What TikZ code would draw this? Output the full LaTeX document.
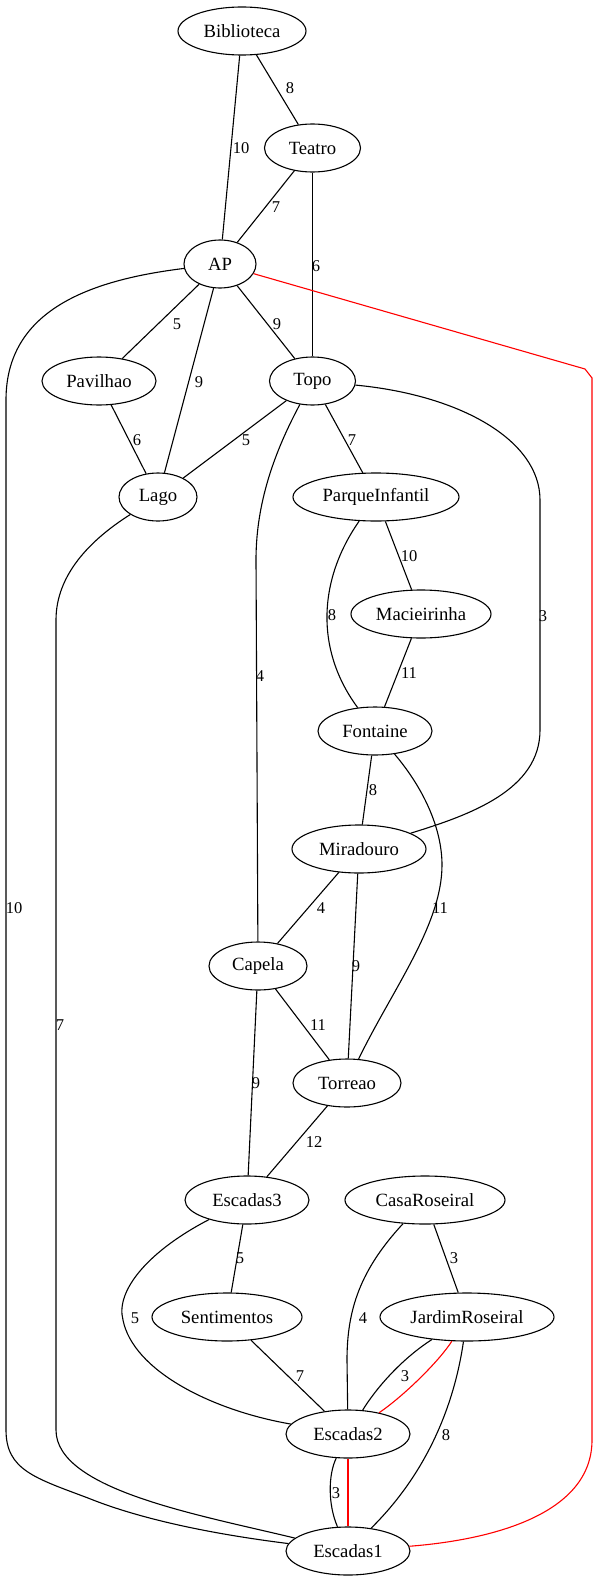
\documentclass[tikz,border=0pt]{standalone}
\usepackage{fontspec}
\setmainfont{Liberation Serif}
\usetikzlibrary{shapes.geometric}
\newcommand{\placefont}{\fontsize{18.67bp}{20bp}\selectfont}
\newcommand{\weightfont}{\fontsize{16.5bp}{18bp}\selectfont}
\begin{document}
\begin{tikzpicture}[x=1bp,y=-1bp,
  city/.style={draw, ellipse, minimum height=48bp, inner sep=0pt, line width=1.1bp, font=\placefont},
  wt/.style={inner sep=0pt, font=\weightfont},
  link/.style={line width=1.1bp},
  route/.style={line width=1.1bp, red}]
\useasboundingbox (0,0) rectangle (599,1580);

% places
\node[city, minimum width=128bp] (Biblioteca) at (242,31) {Biblioteca};
\node[city, minimum width=96bp] (Teatro) at (312.5,148) {Teatro};
\node[city, minimum width=72bp] (AP) at (220,264) {AP};
\node[city, minimum width=114bp] (Pavilhao) at (99,381) {Pavilhao};
\node[city, minimum width=86bp] (Topo) at (312.5,381) {Topo};
\node[city, minimum width=78bp] (Lago) at (158,497) {Lago};
\node[city, minimum width=166bp] (ParqueInfantil) at (376,497) {ParqueInfantil};
\node[city, minimum width=140bp] (Macieirinha) at (421,614) {Macieirinha};
\node[city, minimum width=114bp] (Fontaine) at (375,731) {Fontaine};
\node[city, minimum width=134bp] (Miradouro) at (359,849) {Miradouro};
\node[city, minimum width=98bp] (Capela) at (258,966) {Capela};
\node[city, minimum width=108bp] (Torreao) at (347,1083) {Torreao};
\node[city, minimum width=124bp] (Escadas3) at (247,1200) {Escadas3};
\node[city, minimum width=160bp] (CasaRoseiral) at (425,1200) {CasaRoseiral};
\node[city, minimum width=150bp] (Sentimentos) at (227,1317) {Sentimentos};
\node[city, minimum width=174bp] (JardimRoseiral) at (467,1317) {JardimRoseiral};
\node[city, minimum width=124bp] (Escadas2) at (348,1434) {Escadas2};
\node[city, minimum width=124bp] (Escadas1) at (348,1551) {Escadas1};

% straight connections
\draw[link] (Biblioteca) -- (AP);
\draw[link] (Biblioteca) -- (Teatro);
\draw[link] (Teatro) -- (AP);
\draw[link] (Teatro) -- (Topo);
\draw[link] (AP) -- (Pavilhao);
\draw[link] (AP) -- (Lago);
\draw[link] (AP) -- (Topo);
\draw[link] (Pavilhao) -- (Lago);
\draw[link] (Topo) -- (Lago);
\draw[link] (Topo) -- (ParqueInfantil);
\draw[link] (ParqueInfantil) -- (Macieirinha);
\draw[link] (Macieirinha) -- (Fontaine);
\draw[link] (Fontaine) -- (Miradouro);
\draw[link] (Miradouro) -- (Capela);
\draw[link] (Miradouro) -- (Torreao);
\draw[link] (Capela) -- (Torreao);
\draw[link] (Capela) -- (Escadas3);
\draw[link] (Torreao) -- (Escadas3);
\draw[link] (Escadas3) -- (Sentimentos);
\draw[link] (CasaRoseiral) -- (JardimRoseiral);
\draw[link] (Sentimentos) -- (Escadas2);

% curved connections
\draw[link] (AP) .. controls (90,280) and (6,310) .. (6,400) -- (6,1430)
  .. controls (6,1470) and (35,1478) .. (88,1498)
  .. controls (145,1521) and (220,1535) .. (Escadas1);
\draw[link] (Lago) .. controls (90,540) and (56,575) .. (56,620) -- (56,1430)
  .. controls (56,1490) and (200,1515) .. (Escadas1);
\draw[link] (Topo) .. controls (270,460) and (256,510) .. (256,560) -- (Capela);
\draw[link] (Topo) .. controls (460,395) and (540,440) .. (540,500) -- (540,730)
  .. controls (540,790) and (470,815) .. (Miradouro);
\draw[link] (ParqueInfantil) .. controls (318,580) and (315,650) .. (Fontaine);
\draw[link] (Fontaine) .. controls (425,790) and (442,830) .. (442,865)
  .. controls (442,925) and (392,990) .. (Torreao);
\draw[link] (Escadas3) .. controls (150,1250) and (115,1290) .. (123,1320)
  .. controls (133,1370) and (210,1410) .. (Escadas2);
\draw[link] (CasaRoseiral) .. controls (360,1270) and (347,1310) .. (347,1360) -- (Escadas2);
\draw[link] (JardimRoseiral) .. controls (400,1360) and (375,1390) .. (Escadas2);
\draw[link] (JardimRoseiral) .. controls (455,1400) and (430,1470) .. (Escadas1);
\draw[link] (Escadas2) .. controls (328,1475) and (328,1505) .. (Escadas1);

% highlighted route
\draw[route] (AP) -- (585,369) -- (592,378) -- (592,1440)
  .. controls (592,1515) and (490,1540) .. (Escadas1);
\draw[route] (JardimRoseiral) .. controls (440,1360) and (405,1395) .. (Escadas2);
\draw[route] (Escadas2) -- (Escadas1);

% weights
\node[wt] (w1) at (241,148) {10};
\node[wt] (w2) at (290,88) {8};
\node[wt] (w3) at (276,207) {7};
\node[wt] (w4) at (316,266) {6};
\node[wt] (w5) at (177,324) {5};
\node[wt] (w6) at (277,324) {9};
\node[wt] (w7) at (199,382) {9};
\node[wt] (w8) at (137,440) {6};
\node[wt] (w9) at (246,440) {5};
\node[wt] (w10) at (352,440) {7};
\node[wt] (w11) at (409,556) {10};
\node[wt] (w12) at (332,615) {8};
\node[wt] (w13) at (260,676) {4};
\node[wt] (w14) at (543,616) {3};
\node[wt] (w15) at (409,673) {11};
\node[wt] (w16) at (373,790) {8};
\node[wt] (w17) at (440,908) {11};
\node[wt] (w18) at (14,908) {10};
\node[wt] (w19) at (321,908) {4};
\node[wt] (w20) at (356,966) {9};
\node[wt] (w21) at (318,1025) {11};
\node[wt] (w22) at (256,1083) {9};
\node[wt] (w23) at (60,1025) {7};
\node[wt] (w24) at (314,1142) {12};
\node[wt] (w25) at (240,1258) {5};
\node[wt] (w26) at (454,1258) {3};
\node[wt] (w27) at (135,1318) {5};
\node[wt] (w28) at (363,1318) {4};
\node[wt] (w29) at (300,1376) {7};
\node[wt] (w30) at (405,1376) {3};
\node[wt] (w31) at (446,1435) {8};
\node[wt] (w32) at (336,1493) {3};
\end{tikzpicture}
\end{document}
